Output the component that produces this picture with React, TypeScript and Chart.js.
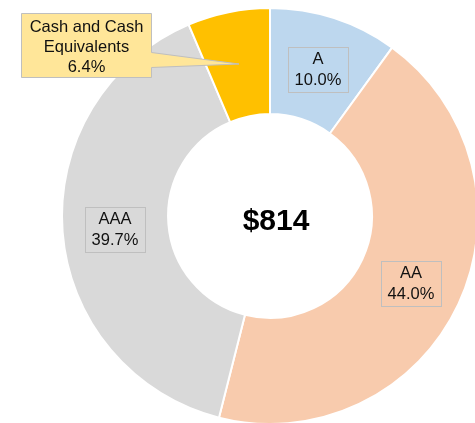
import React, { useEffect, useRef } from "react";
import { Chart, registerables } from "chart.js";

Chart.register(...registerables);

const categories = ["A", "AA", "AAA", "Cash and Cash Equivalents"];
const shares = [10.0, 44.0, 39.7, 6.4];
const colors = ["#BDD7EE", "#F8CBAD", "#D9D9D9", "#FFC000"];
const centerText = "$814";

const labelPos = [
  { x: 318, y: 69 },
  { x: 411, y: 283 },
  { x: 115, y: 229 },
];

const FONT = "Arial, 'Liberation Sans', Helvetica, sans-serif";

const labelPlugin = {
  id: "labelPlugin",
  afterDatasetsDraw(chart: any) {
    const ctx = chart.ctx as CanvasRenderingContext2D;
    const meta = chart.getDatasetMeta(0);
    const arc0 = meta.data[0];
    const cx = arc0.x;
    const cy = arc0.y;
    ctx.save();
    ctx.fillStyle = "#000";
    ctx.font = `bold 30px ${FONT}`;
    ctx.textAlign = "center";
    ctx.textBaseline = "middle";
    ctx.fillText(centerText, cx + 6, cy + 6);

    ctx.font = `16.5px ${FONT}`;
    for (let i = 0; i < 3; i++) {
      const p = labelPos[i];
      const lines = [categories[i], shares[i].toFixed(1) + "%"];
      const w = Math.round(Math.max(...lines.map((l) => ctx.measureText(l).width)) + 13);
      const h = 45;
      const x0 = Math.round(p.x - w / 2) + 0.5;
      const y0 = Math.round(p.y - h / 2) + 0.5;
      ctx.fillStyle = colors[i];
      ctx.fillRect(x0, y0, w, h);
      ctx.strokeStyle = "#BFBFBF";
      ctx.lineWidth = 1;
      ctx.strokeRect(x0, y0, w, h);
      ctx.fillStyle = "#111";
      ctx.fillText(lines[0], p.x, p.y - 10);
      ctx.fillText(lines[1], p.x, p.y + 11);
    }

    const bx = 21.5, by = 13.5, bw = 130, bh = 64;
    const tipX = 239, tipY = 64;
    ctx.beginPath();
    ctx.moveTo(bx, by);
    ctx.lineTo(bx + bw, by);
    ctx.lineTo(bx + bw, 52.5);
    ctx.lineTo(tipX, tipY);
    ctx.lineTo(bx + bw, 67.5);
    ctx.lineTo(bx + bw, by + bh);
    ctx.lineTo(bx, by + bh);
    ctx.closePath();
    ctx.fillStyle = "#FFE699";
    ctx.fill();
    ctx.strokeStyle = "#BFBFBF";
    ctx.lineWidth = 1;
    ctx.stroke();
    ctx.fillStyle = "#111";
    const cxl = bx + bw / 2;
    ctx.fillText("Cash and Cash", cxl, 27);
    ctx.fillText("Equivalents", cxl, 47);
    ctx.fillText(shares[3].toFixed(1) + "%", cxl, 67);
    ctx.restore();
  },
};

export default function App() {
  const ref = useRef<HTMLCanvasElement>(null);
  useEffect(() => {
    const chart = new Chart(ref.current!, {
      type: "doughnut",
      data: {
        labels: categories,
        datasets: [
          {
            data: shares,
            backgroundColor: colors,
            borderColor: "#FFFFFF",
            borderWidth: 2,
            hoverOffset: 0,
          },
        ],
      },
      options: {
        responsive: false,
        animation: false,
        cutout: "49%",
        layout: { padding: { top: 7, bottom: 7, left: 0, right: 0 } },
        plugins: {
          legend: { display: false },
          tooltip: { enabled: false },
        },
      },
      plugins: [labelPlugin],
    });
    return () => chart.destroy();
  }, []);
  return (
    <div
      style={{
        position: "fixed",
        left: 0,
        top: 0,
        width: 475,
        height: 423,
        overflow: "hidden",
        background: "#fff",
      }}
    >
      <canvas
        ref={ref}
        width={540}
        height={432}
        style={{ position: "absolute", left: 0, top: 0 }}
      />
    </div>
  );
}
